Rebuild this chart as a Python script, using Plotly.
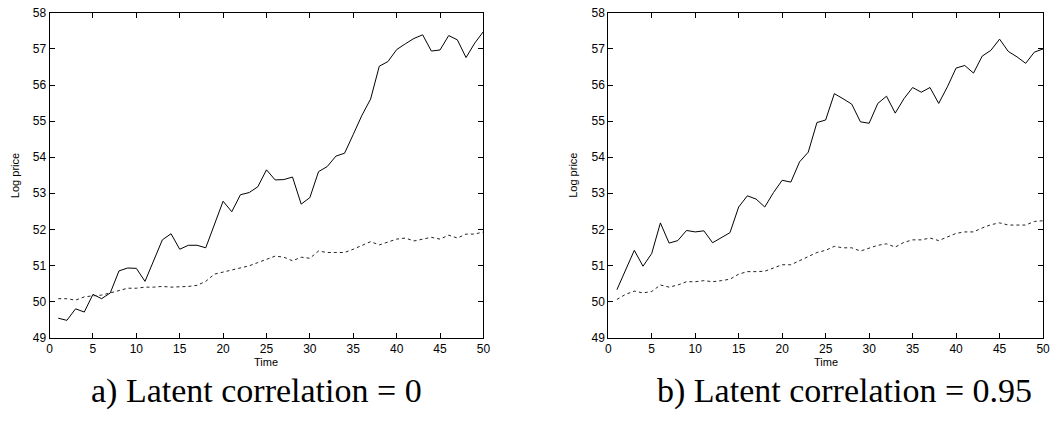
import plotly.graph_objects as go

time = list(range(1, 51))

# Panel a) latent correlation = 0
a_solid = [49.54, 49.48, 49.80, 49.71, 50.20, 50.08, 50.24, 50.85, 50.93, 50.92,
           50.56, 51.16, 51.71, 51.88, 51.45, 51.56, 51.56, 51.49, 52.13, 52.78,
           52.49, 52.96, 53.02, 53.18, 53.65, 53.37, 53.38, 53.45, 52.70, 52.88,
           53.60, 53.74, 54.03, 54.11, 54.63, 55.16, 55.61, 56.52, 56.65, 56.98,
           57.14, 57.29, 57.39, 56.94, 56.97, 57.37, 57.25, 56.76, 57.16, 57.48]
a_dashed = [50.08, 50.08, 50.04, 50.13, 50.16, 50.18, 50.24, 50.31, 50.37, 50.37,
            50.40, 50.40, 50.42, 50.40, 50.40, 50.42, 50.45, 50.56, 50.76, 50.82,
            50.89, 50.95, 50.99, 51.08, 51.18, 51.26, 51.23, 51.13, 51.23, 51.20,
            51.40, 51.36, 51.36, 51.36, 51.45, 51.56, 51.66, 51.57, 51.64, 51.73,
            51.76, 51.68, 51.73, 51.78, 51.73, 51.84, 51.76, 51.87, 51.87, 51.93]

# Panel b) latent correlation = 0.95
b_solid = [50.33, 50.90, 51.42, 50.98, 51.33, 52.18, 51.62, 51.69, 51.97, 51.93,
           51.96, 51.63, 51.78, 51.91, 52.62, 52.93, 52.84, 52.62, 53.02, 53.36,
           53.31, 53.87, 54.14, 54.96, 55.03, 55.76, 55.62, 55.47, 54.98, 54.94,
           55.49, 55.69, 55.22, 55.62, 55.93, 55.80, 55.93, 55.49, 55.95, 56.47,
           56.54, 56.33, 56.80, 56.96, 57.27, 56.93, 56.78, 56.60, 56.91, 57.00]
b_dashed = [50.06, 50.20, 50.29, 50.24, 50.28, 50.46, 50.40, 50.46, 50.55, 50.55,
            50.58, 50.55, 50.58, 50.62, 50.76, 50.83, 50.83, 50.84, 50.93, 51.02,
            51.02, 51.13, 51.23, 51.36, 51.42, 51.53, 51.49, 51.49, 51.40, 51.47,
            51.56, 51.60, 51.51, 51.64, 51.71, 51.71, 51.76, 51.69, 51.80, 51.89,
            51.93, 51.93, 52.04, 52.13, 52.18, 52.12, 52.12, 52.12, 52.22, 52.24]

x_ticks = list(range(0, 51, 5))
y_ticks = list(range(49, 59))
captions = ["a) Latent correlation = 0", "b) Latent correlation = 0.95"]
x_title = "Time"
y_title = "Log price"

W, H = 1057, 423
fig = go.Figure()

line_solid = dict(color="black", width=1)
line_dash = dict(color="#222222", width=1, dash="3px,3px")

fig.add_trace(go.Scatter(x=time, y=a_solid, mode="lines", line=line_solid, xaxis="x", yaxis="y", showlegend=False))
fig.add_trace(go.Scatter(x=time, y=a_dashed, mode="lines", line=line_dash, xaxis="x", yaxis="y", showlegend=False))
fig.add_trace(go.Scatter(x=time, y=b_solid, mode="lines", line=line_solid, xaxis="x2", yaxis="y2", showlegend=False))
fig.add_trace(go.Scatter(x=time, y=b_dashed, mode="lines", line=line_dash, xaxis="x2", yaxis="y2", showlegend=False))

tickfont = dict(family="Liberation Sans, Arial, sans-serif", size=12, color="black")
ax_common = dict(showgrid=False, zeroline=False, showline=True, linecolor="black", linewidth=1,
                 mirror="allticks", ticks="inside", ticklen=5, tickcolor="black", tickwidth=1,
                 tickfont=tickfont, ticklabeloverflow="allow")

dom_y = [1 - 342 / H, 1 - 6 / H]
dom_a = [47 / W, 485 / W]
dom_b = [611 / W, 1050 / W]

fig.update_layout(
    width=W, height=H,
    margin=dict(l=0, r=0, t=0, b=0),
    paper_bgcolor="white", plot_bgcolor="white",
    xaxis=dict(domain=dom_a, range=[0, 50], tickvals=x_ticks, anchor="y", **ax_common),
    yaxis=dict(domain=dom_y, range=[49, 58], tickvals=y_ticks, anchor="x", **ax_common),
    xaxis2=dict(domain=dom_b, range=[0, 50], tickvals=x_ticks, anchor="y2", **ax_common),
    yaxis2=dict(domain=dom_y, range=[49, 58], tickvals=y_ticks, anchor="x2", **ax_common),
)

labfont = dict(family="Liberation Sans, Arial, sans-serif", size=11, color="black")
capfont = dict(family="Liberation Serif, Times New Roman, serif", size=34, color="black")

for dom in (dom_a, dom_b):
    mid = (dom[0] + dom[1]) / 2
    fig.add_annotation(x=mid, y=1 - 367 / H, xref="paper", yref="paper", text=x_title,
                       showarrow=False, font=labfont, xanchor="center", yanchor="middle")
    fig.add_annotation(x=(dom[0] * W - 35) / W, y=(dom_y[0] + dom_y[1]) / 2, xref="paper", yref="paper",
                       text=y_title, textangle=-90, showarrow=False, font=labfont,
                       xanchor="center", yanchor="middle")

fig.add_annotation(x=256 / W, y=1 - 397 / H, xref="paper", yref="paper", text=captions[0],
                   showarrow=False, font=capfont, xanchor="center", yanchor="middle")
fig.add_annotation(x=850 / W, y=1 - 397 / H, xref="paper", yref="paper", text=captions[1],
                   showarrow=False, font=capfont, xanchor="center", yanchor="middle")

fig.write_html("out.html")
